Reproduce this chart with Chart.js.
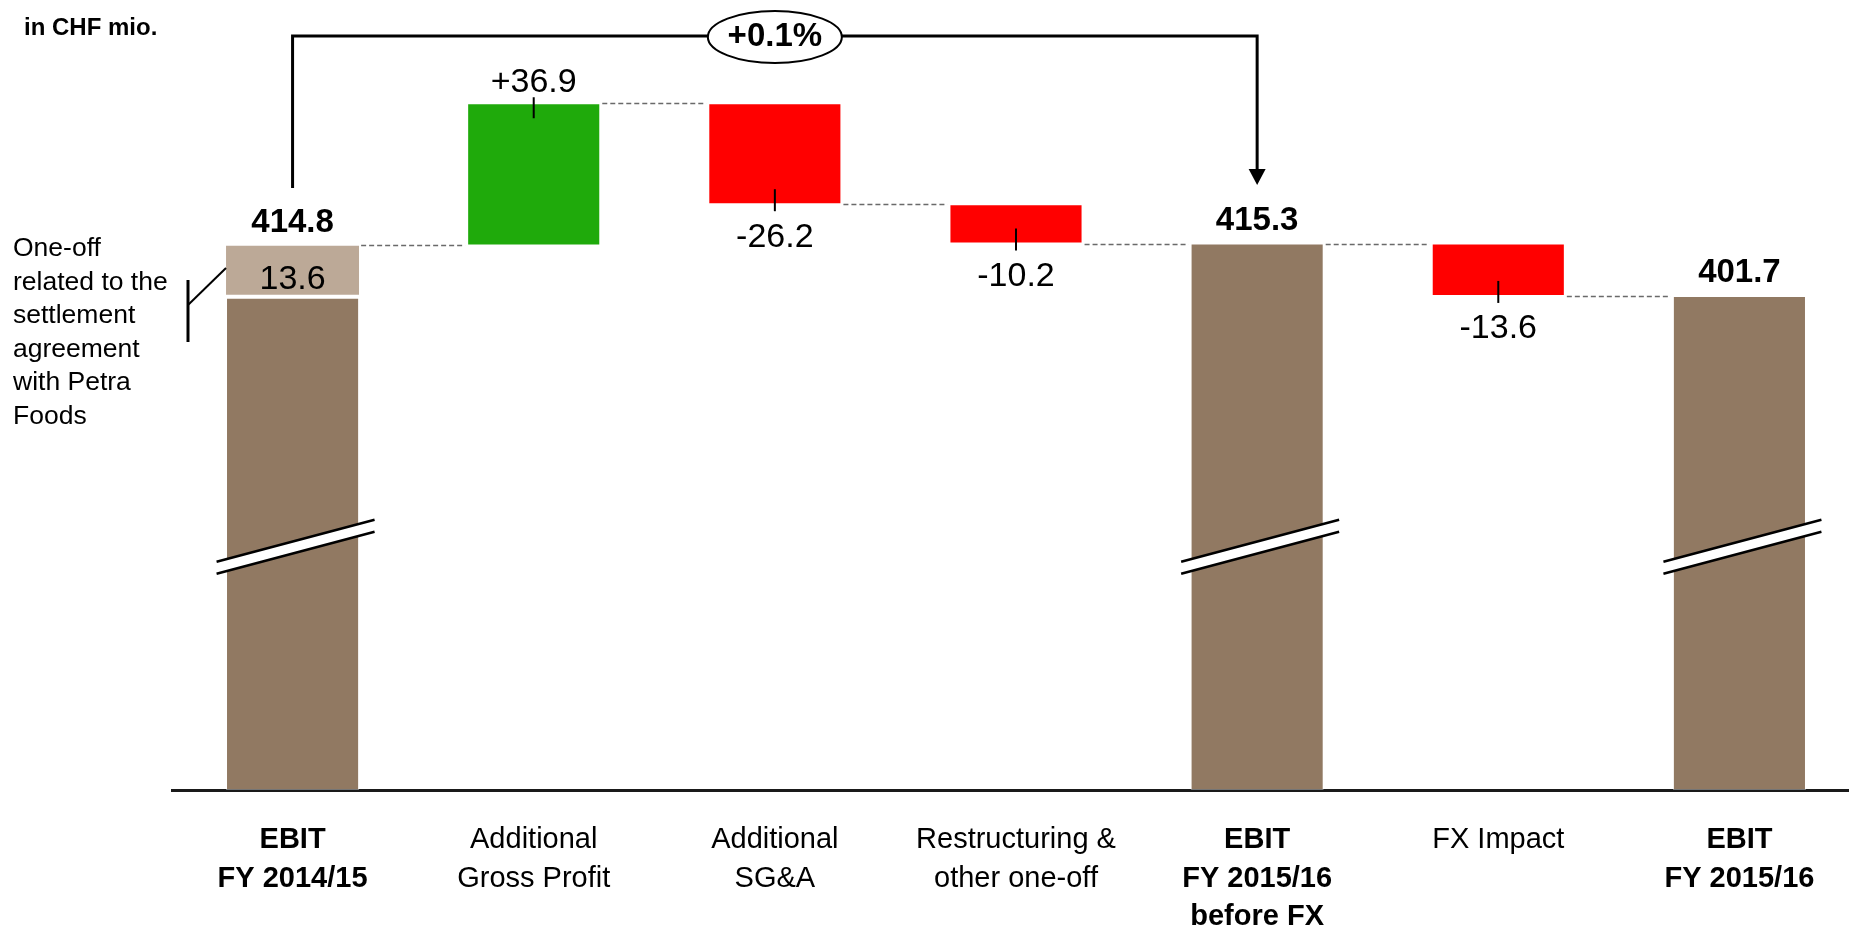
<!DOCTYPE html>
<html>
<head>
<meta charset="utf-8">
<script src="https://cdn.jsdelivr.net/npm/chart.js@4.4.1/dist/chart.umd.min.js"></script>
<style>
  html, body { margin: 0; padding: 0; background: #fff; overflow: hidden; }
  #wrap { position: relative; width: 1860px; height: 931px; }
</style>
</head>
<body>
<div id="wrap"><canvas id="chart"></canvas></div>
<script>
// ─── data ─────────────────────────────────────────────
const categories = [
  ['EBIT', 'FY 2014/15'],
  ['Additional', 'Gross Profit'],
  ['Additional', 'SG&A'],
  ['Restructuring &', 'other one-off'],
  ['EBIT', 'FY 2015/16', 'before FX'],
  ['FX Impact'],
  ['EBIT', 'FY 2015/16']
];
const totalValues  = [414.8, null, null, null, 415.3, null, 401.7];
const changeValues = [null, 36.9, -26.2, -10.2, null, -13.6, null];
const oneOffValues = [13.6, null, null, null, null, null, null];
const growthLabel = '+0.1%';
const unitLabel = 'in CHF mio.';
const oneOffNote = ['One-off', 'related to the', 'settlement', 'agreement', 'with Petra', 'Foods'];

// ─── look ─────────────────────────────────────────────
const FONT = "'Liberation Sans', Arial, sans-serif";
const COLORS = {
  total:     '#917962',
  oneOff:    '#BCA997',
  up:        '#1FAA0B',
  down:      '#FF0000',
  ink:       '#000000',
  connector: '#6a6a6a'
};
const Y_MIN = 273.5, Y_MAX = 473.3;   // broken axis, bars start at Y_MIN
const BREAK_Y = 546.8;                 // pixel row of the axis-break marks

// running totals -> floating bar ranges
const ends = [];
const mainRanges = [];
const oneOffRanges = [];
let running = 0;
categories.forEach((_, i) => {
  if (totalValues[i] != null) {
    running = totalValues[i];
    const off = oneOffValues[i] || 0;
    mainRanges.push([Y_MIN, running - off]);
    oneOffRanges.push(off ? [running - off, running] : null);
  } else {
    const start = running;
    running += changeValues[i];
    mainRanges.push([start, running]);
    oneOffRanges.push(null);
  }
  ends.push(running);
});
const barColors = categories.map((_, i) =>
  totalValues[i] != null ? COLORS.total : (changeValues[i] > 0 ? COLORS.up : COLORS.down));

const fmt = (v) => v.toFixed(1);
const fmtSigned = (v) => (v > 0 ? '+' : '') + v.toFixed(1);

function font(size, bold) {
  return (bold ? 'bold ' : '') + size + 'px ' + FONT;
}

// ─── decorations: connectors, labels, breaks, bracket ──
const waterfallDecor = {
  id: 'waterfallDecor',
  beforeDatasetsDraw(chart) {
    const ctx = chart.ctx;
    const y = chart.scales.y;
    const bars = chart.getDatasetMeta(0).data;
    ctx.save();
    ctx.strokeStyle = COLORS.connector;
    ctx.lineWidth = 1.5;
    ctx.setLineDash([5, 3]);
    for (let i = 0; i < bars.length - 1; i++) {
      const a = bars[i], b = bars[i + 1];
      const py = Math.round(y.getPixelForValue(ends[i])) + 0.5;
      ctx.beginPath();
      ctx.moveTo(a.x + a.width / 2 + 2, py);
      ctx.lineTo(b.x - b.width / 2 - 2, py);
      ctx.stroke();
    }
    ctx.restore();
  },
  afterDatasetsDraw(chart) {
    const ctx = chart.ctx;
    const bars = chart.getDatasetMeta(0).data;
    const offs = chart.getDatasetMeta(1).data;
    ctx.save();
    ctx.fillStyle = COLORS.ink;
    ctx.strokeStyle = COLORS.ink;
    ctx.textAlign = 'center';
    ctx.textBaseline = 'middle';

    bars.forEach((el, i) => {
      const top = Math.min(el.y, el.base);
      const bottom = Math.max(el.y, el.base);
      if (totalValues[i] != null) {
        const segTop = oneOffValues[i] ? Math.min(offs[i].y, offs[i].base) : top;
        ctx.font = font(33, true);
        ctx.fillText(fmt(totalValues[i]), el.x, segTop - 23);
        if (oneOffValues[i]) {
          const o = offs[i];
          ctx.font = font(34, false);
          ctx.fillText(fmt(oneOffValues[i]), o.x, (o.y + o.base) / 2 + 8);
        }
        // axis break marks
        const x1 = el.x - 76, x2 = el.x + 82;
        const u1 = BREAK_Y + 15, u2 = BREAK_Y - 27;
        ctx.fillStyle = '#fff';
        ctx.beginPath();
        ctx.moveTo(x1, u1); ctx.lineTo(x2, u2);
        ctx.lineTo(x2, u2 + 12); ctx.lineTo(x1, u1 + 12);
        ctx.closePath();
        ctx.fill();
        ctx.fillStyle = COLORS.ink;
        ctx.lineWidth = 2.5;
        ctx.beginPath();
        ctx.moveTo(x1, u1); ctx.lineTo(x2, u2);
        ctx.moveTo(x1, u1 + 12); ctx.lineTo(x2, u2 + 12);
        ctx.stroke();
      } else {
        const v = changeValues[i];
        ctx.font = font(34, false);
        ctx.lineWidth = 2;
        ctx.beginPath();
        if (v > 0) {
          ctx.fillText(fmtSigned(v), el.x, top - 21);
          ctx.moveTo(el.x, top - 6); ctx.lineTo(el.x, top + 15);
        } else {
          ctx.fillText(fmtSigned(v), el.x, bottom + 33);
          ctx.moveTo(el.x, bottom - 15); ctx.lineTo(el.x, bottom + 7);
        }
        ctx.stroke();
      }
    });

    // +0.1% bracket from first EBIT to EBIT before FX
    const first = bars[0], target = bars[4];
    const yTop = 36;
    ctx.lineWidth = 3;
    ctx.beginPath();
    ctx.moveTo(first.x, 188);
    ctx.lineTo(first.x, yTop);
    ctx.lineTo(target.x, yTop);
    ctx.lineTo(target.x, 172);
    ctx.stroke();
    ctx.beginPath();
    ctx.moveTo(target.x - 8.5, 169);
    ctx.lineTo(target.x + 8.5, 169);
    ctx.lineTo(target.x, 185);
    ctx.closePath();
    ctx.fill();

    const ex = (first.x + target.x) / 2;
    ctx.fillStyle = '#fff';
    ctx.lineWidth = 2;
    ctx.beginPath();
    ctx.ellipse(ex, 37, 67, 26, 0, 0, Math.PI * 2);
    ctx.fill();
    ctx.stroke();
    ctx.fillStyle = COLORS.ink;
    ctx.font = font(33, true);
    ctx.fillText(growthLabel, ex, 37);

    // unit
    ctx.textAlign = 'left';
    ctx.font = font(24, true);
    ctx.fillText(unitLabel, 24, 28);

    // one-off note
    ctx.font = font(26.5, false);
    oneOffNote.forEach((line, k) => ctx.fillText(line, 13, 249 + k * 33.5));
    ctx.lineWidth = 3;
    ctx.beginPath();
    ctx.moveTo(188, 280); ctx.lineTo(188, 342);
    ctx.stroke();
    ctx.lineWidth = 2;
    ctx.beginPath();
    ctx.moveTo(188, 305); ctx.lineTo(first.x - first.width / 2, 268);
    ctx.stroke();

    ctx.restore();
  }
};

new Chart(document.getElementById('chart'), {
  type: 'bar',
  data: {
    labels: categories,
    datasets: [
      {
        data: mainRanges,
        backgroundColor: barColors,
        borderColor: 'rgba(255,255,255,0.4)',
        borderWidth: 1,
        borderSkipped: false,
        grouped: false,
        barPercentage: 1,
        categoryPercentage: 0.552
      },
      {
        data: oneOffRanges,
        backgroundColor: COLORS.oneOff,
        borderColor: '#ffffff',
        borderWidth: { top: 0, left: 0, right: 0, bottom: 3 },
        borderSkipped: false,
        grouped: false,
        barPercentage: 1,
        categoryPercentage: 0.552
      }
    ]
  },
  options: {
    responsive: true,
    maintainAspectRatio: false,
    animation: false,
    layout: { padding: { top: 20, left: 172, right: 0, bottom: 0 } },
    plugins: { legend: { display: false }, tooltip: { enabled: false } },
    scales: {
      x: {
        grid: { display: false, drawTicks: false, tickLength: 0 },
        border: { display: true, color: '#1a1a1a', width: 3 },
        ticks: {
          color: COLORS.ink,
          autoSkip: false,
          maxRotation: 0,
          padding: 31,
          font: (c) => ({
            family: FONT,
            size: 29,
            weight: totalValues[c.index] != null ? 'bold' : 'normal',
            lineHeight: 1.33
          })
        },
        afterFit: (scale) => { scale.height = 141; }
      },
      y: {
        display: false,
        min: Y_MIN,
        max: Y_MAX
      }
    }
  },
  plugins: [waterfallDecor]
});
</script>
</body>
</html>
